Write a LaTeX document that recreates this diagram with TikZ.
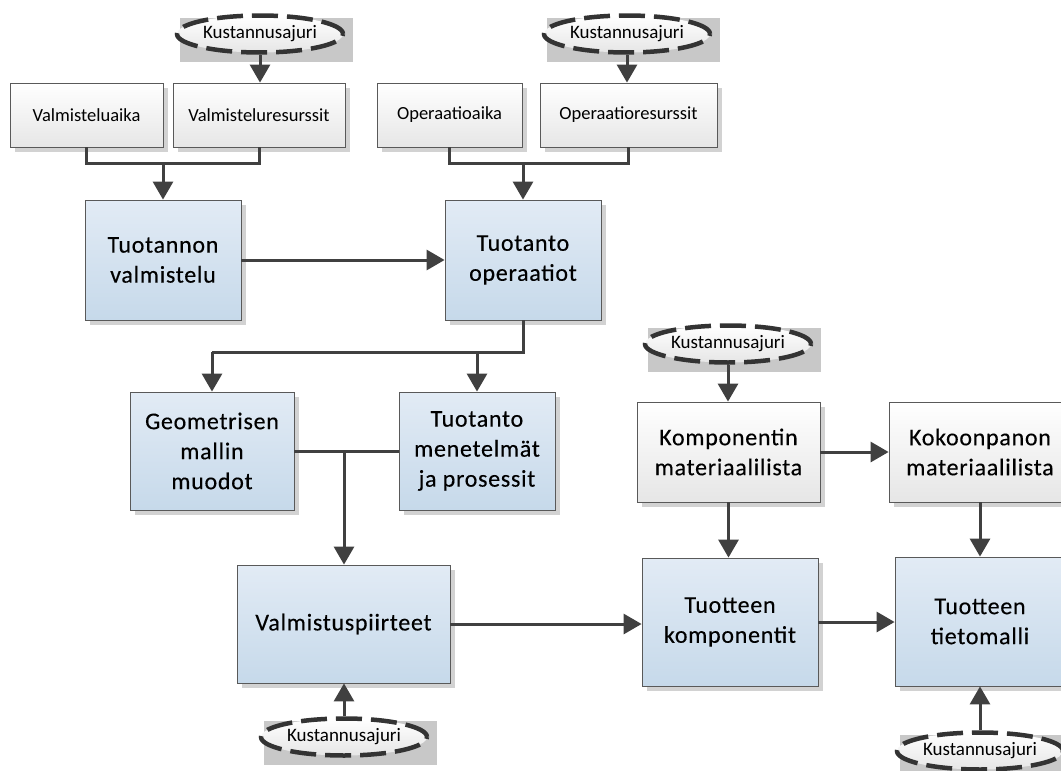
\documentclass[tikz,border=0pt]{standalone}
\usepackage{fontspec}
\setmainfont{Carlito}
\newfontfamily\boxfont[LetterSpace=3,FakeBold=0.3]{Carlito}
\usetikzlibrary{arrows.meta,shadows,shapes.geometric}

\definecolor{lineclr}{HTML}{404040}
\definecolor{blueTop}{HTML}{E2EBF5}
\definecolor{blueBot}{HTML}{C6D9EA}
\definecolor{greyBot}{HTML}{E6E6E6}
\definecolor{drvBack}{HTML}{C8C8C8}
\definecolor{shadowClr}{HTML}{D2D2D2}

\tikzset{
  boxshadow/.style={drop shadow={shadow xshift=5pt, shadow yshift=-5pt, fill=shadowClr, opacity=1}},
  mainbox/.style={rectangle, draw=black!65, line width=0.8pt, top color=blueTop, bottom color=blueBot,
    align=center, inner sep=2pt, font=\boxfont\fontsize{24}{30}\selectfont, boxshadow},
  inbox/.style={rectangle, draw=black!65, line width=0.8pt, top color=white, bottom color=greyBot,
    align=center, inner sep=2pt, font=\fontsize{18.5}{22}\selectfont, boxshadow},
  bombox/.style={inbox, font=\boxfont\fontsize{24}{30}\selectfont},
  driver/.style={ellipse, draw=black!80, line width=4.5pt, dash pattern=on 26pt off 9pt,
    top color=white, bottom color=greyBot, minimum width=166pt, minimum height=37pt,
    inner sep=0pt, font=\fontsize{19}{22}\selectfont},
  conn/.style={line width=3pt, draw=lineclr},
  arr/.style={conn, -{Triangle[width=20pt,length=18pt]}},
}

% a cost driver: grey plate with a dashed ellipse on top
\newcommand{\costdriver}[3]{%
  \fill[drvBack] (#2-80,#3-16) rectangle (#2+93,#3+28);
  \node[driver] (#1) at (#2,#3) {Kustannusajuri};
}

\begin{document}
\begin{tikzpicture}[x=1pt,y=-1pt]
\useasboundingbox (0,0) rectangle (1061,771);
\clip (0,0) rectangle (1061,771);

% cost drivers
\costdriver{d1}{260}{34}
\costdriver{d2}{627}{34}
\costdriver{d3}{728}{344}
\costdriver{d4}{344}{737}
\costdriver{d5}{980}{751}

% input boxes
\node[inbox, minimum width=153pt, minimum height=64pt] (va) at (86.5,115) {Valmisteluaika};
\node[inbox, minimum width=172pt, minimum height=64pt] (vr) at (259,115) {Valmisteluresurssit};
\node[inbox, minimum width=145pt, minimum height=64pt] (oa) at (449.5,115) {Operaatioaika};
\node[inbox, minimum width=177pt, minimum height=64pt] (or) at (628.5,115) {Operaatioresurssit};

% main process boxes
\node[mainbox, minimum width=156pt, minimum height=120pt] (tv) at (163,260) {Tuotannon\\valmistelu};
\node[mainbox, minimum width=156pt, minimum height=120pt] (to) at (523,260) {Tuotanto\\operaatiot};
\node[mainbox, minimum width=164pt, minimum height=118pt] (gm) at (212,451) {Geometrisen\\mallin\\muodot};
\node[mainbox, minimum width=156pt, minimum height=118pt] (tm) at (477,451) {Tuotanto\\menetelmät\\ja prosessit};
\node[mainbox, minimum width=213pt, minimum height=118pt] (vp) at (343.5,624) {Valmistuspiirteet};
\node[mainbox, minimum width=176pt, minimum height=128pt] (tk) at (730,622) {Tuotteen\\komponentit};
\node[mainbox, minimum width=170pt, minimum height=129pt] (tt) at (980,621.5) {Tuotteen\\tietomalli};

% bill of materials boxes
\node[bombox, minimum width=183pt, minimum height=100pt] (km) at (728.5,452) {Komponentin\\materiaalilista};
\node[bombox, minimum width=182pt, minimum height=100pt] (kp) at (980,452) {Kokoonpanon\\materiaalilista};

% junction points
\coordinate (j1) at (163,163);
\coordinate (j2) at (523,163);
\coordinate (j3) at (212,352);
\coordinate (j4) at (477,352);
\coordinate (j5) at (344,452);

% connectors
\draw[arr] (d1) -- (d1 |- vr.north);
\draw[arr] (d2) -- (or.north -| d2);
\draw[conn] (va.south) |- (j1) -| (vr.south);
\draw[arr] (j1) -- (tv.north);
\draw[conn] (oa.south) |- (j2) -| (or.south);
\draw[arr] (j2) -- (to.north);
\draw[arr] (tv.east) -- (to.west);
\draw[conn] (to.south) |- (j3);
\draw[arr] (j3) -- (gm.north);
\draw[arr] (j4) -- (tm.north);
\draw[conn] (gm.east) -- (tm.west);
\draw[arr] (j5) -- (vp.north -| j5);
\draw[arr] (d4.north) -- (vp.south -| d4);
\draw[arr] (vp.east) -- (tk.west |- vp.east);
\draw[arr] (d3.south) -- (km.north -| d3);
\draw[arr] (km.east) -- (kp.west);
\draw[arr] (km.south) -- (tk.north -| km.south);
\draw[arr] (kp.south) -- (tt.north);
\draw[arr] (tk.east) -- (tt.west |- tk.east);
\draw[arr] (d5.north) -- (tt.south);
\end{tikzpicture}
\end{document}
